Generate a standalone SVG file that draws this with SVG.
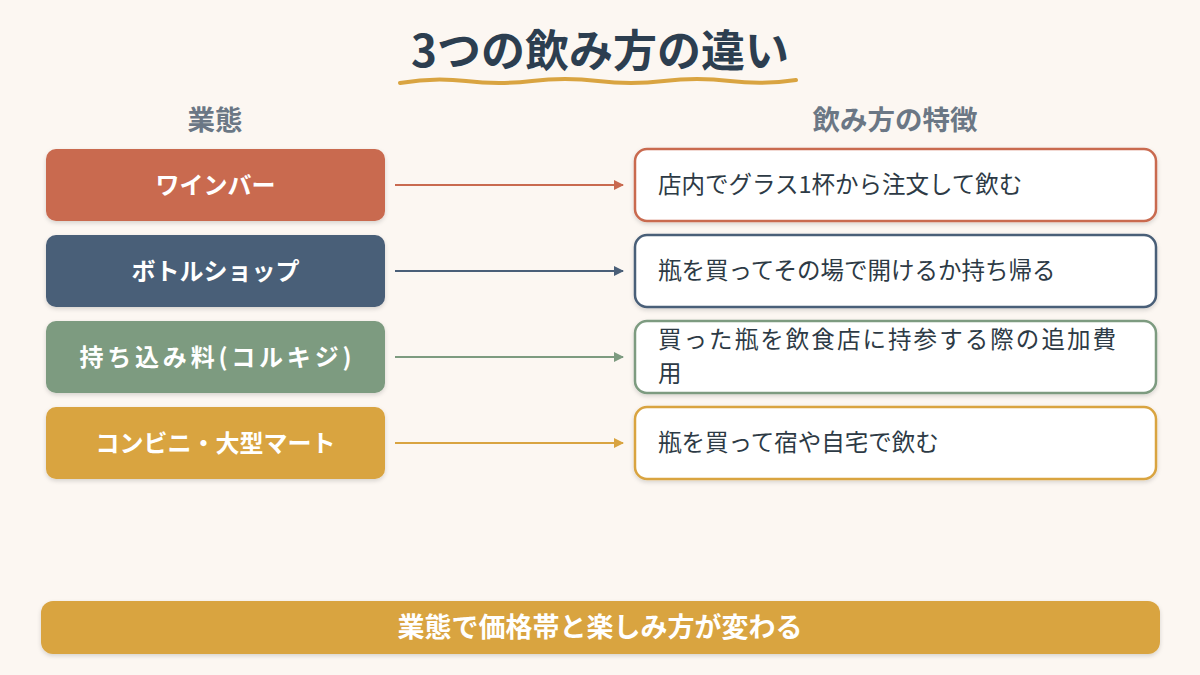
<svg xmlns="http://www.w3.org/2000/svg" width="1200" height="675" viewBox="0 0 1200 675">
<defs>
<filter id="sh" x="-10%" y="-20%" width="120%" height="150%">
<feDropShadow dx="0" dy="2" stdDeviation="2" flood-color="#000" flood-opacity="0.15"/>
</filter>
<marker id="ar1" markerWidth="10" markerHeight="10" refX="9" refY="5" orient="auto" markerUnits="userSpaceOnUse"><path d="M0,0 L10,5 L0,10 Z" fill="#c96a50"/></marker>
<marker id="ar2" markerWidth="10" markerHeight="10" refX="9" refY="5" orient="auto" markerUnits="userSpaceOnUse"><path d="M0,0 L10,5 L0,10 Z" fill="#4a5f78"/></marker>
<marker id="ar3" markerWidth="10" markerHeight="10" refX="9" refY="5" orient="auto" markerUnits="userSpaceOnUse"><path d="M0,0 L10,5 L0,10 Z" fill="#7d9b80"/></marker>
<marker id="ar4" markerWidth="10" markerHeight="10" refX="9" refY="5" orient="auto" markerUnits="userSpaceOnUse"><path d="M0,0 L10,5 L0,10 Z" fill="#d9a441"/></marker>
</defs>
<style>
text{font-family:"Noto Sans CJK JP","Noto Sans",sans-serif}
.title{font-size:44px;font-weight:700;fill:#2c3e50}
.hdr{font-size:27.5px;font-weight:700;fill:#6b7785}
.lbl{font-size:24px;font-weight:700;fill:#fff}
.foot{font-size:27px;font-weight:700;fill:#fff}
.desc{font-size:23.5px;fill:#2d3a45}
.rbox{fill:#fff;stroke-width:2.5}
.conn{stroke-width:2;fill:none}
</style>
<rect width="1200" height="675" fill="#fcf7f2"/>
<g id="title">
<text class="title" x="600" y="67" text-anchor="middle">3つの飲み方の違い</text>
<path d="M400,83 Q433,77 466,81 T532,81 T598,81 T664,81 T730,81 T796,80" fill="none" stroke="#d9a441" stroke-width="4" stroke-linecap="round"/>
</g>
<g id="headers">
<text class="hdr" x="215" y="130" text-anchor="middle">業態</text>
<text class="hdr" x="895" y="130" text-anchor="middle">飲み方の特徴</text>
</g>
<g id="node-winebar">
<rect x="46" y="149" width="339" height="72" rx="10" fill="#c96a50" filter="url(#sh)"/>
<text class="lbl" x="215.5" y="194" text-anchor="middle">ワインバー</text>
</g>
<g id="node-bottleshop">
<rect x="46" y="235" width="339" height="72" rx="10" fill="#4a5f78" filter="url(#sh)"/>
<text class="lbl" x="215.5" y="280" text-anchor="middle">ボトルショップ</text>
</g>
<g id="node-corkage">
<rect x="46" y="321" width="339" height="72" rx="10" fill="#7d9b80" filter="url(#sh)"/>
<text class="lbl" x="215.5" y="366" text-anchor="middle" textLength="272" lengthAdjust="spacing">持ち込み料(コルキジ)</text>
</g>
<g id="node-conbini">
<rect x="46" y="407" width="339" height="72" rx="10" fill="#d9a441" filter="url(#sh)"/>
<text class="lbl" x="215.5" y="452" text-anchor="middle">コンビニ・大型マート</text>
</g>
<g id="desc-winebar">
<rect class="rbox" x="635" y="149" width="521" height="72" rx="12" stroke="#c96a50" filter="url(#sh)"/>
<text class="desc" x="658" y="193">店内でグラス1杯から注文して飲む</text>
</g>
<g id="desc-bottleshop">
<rect class="rbox" x="635" y="235" width="521" height="72" rx="12" stroke="#4a5f78" filter="url(#sh)"/>
<text class="desc" x="658" y="279">瓶を買ってその場で開けるか持ち帰る</text>
</g>
<g id="desc-corkage">
<rect class="rbox" x="635" y="321" width="521" height="72" rx="12" stroke="#7d9b80" filter="url(#sh)"/>
<text class="desc" x="658" y="348" textLength="458" lengthAdjust="spacing">買った瓶を飲食店に持参する際の追加費</text>
<text class="desc" x="658" y="382">用</text>
</g>
<g id="desc-conbini">
<rect class="rbox" x="635" y="407" width="521" height="72" rx="12" stroke="#d9a441" filter="url(#sh)"/>
<text class="desc" x="658" y="451">瓶を買って宿や自宅で飲む</text>
</g>
<g id="connectors">
<line class="conn" x1="395" y1="185" x2="623" y2="185" stroke="#c96a50" marker-end="url(#ar1)"/>
<line class="conn" x1="395" y1="271" x2="623" y2="271" stroke="#4a5f78" marker-end="url(#ar2)"/>
<line class="conn" x1="395" y1="357" x2="623" y2="357" stroke="#7d9b80" marker-end="url(#ar3)"/>
<line class="conn" x1="395" y1="443" x2="623" y2="443" stroke="#d9a441" marker-end="url(#ar4)"/>
</g>
<g id="footer">
<rect x="41" y="601" width="1119" height="53" rx="12" fill="#d9a441" filter="url(#sh)"/>
<text class="foot" x="600" y="637" text-anchor="middle">業態で価格帯と楽しみ方が変わる</text>
</g>
</svg>
